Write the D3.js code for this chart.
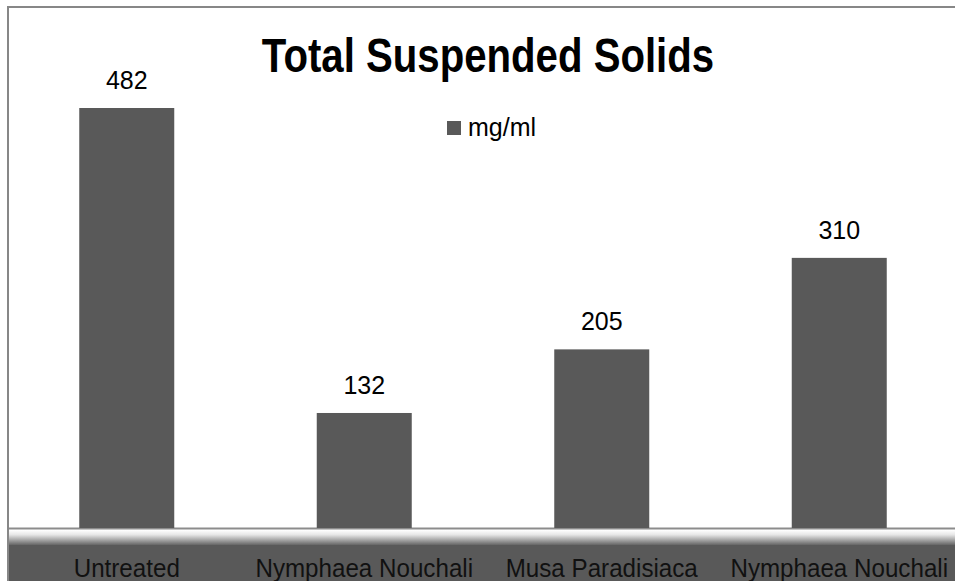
<!DOCTYPE html>
<html>
<head>
  <meta charset="utf-8">
  <title>Total Suspended Solids</title>
  <script src="https://d3js.org/d3.v7.min.js"></script>
  <style>
    body { margin: 0; background: #fff; }
    text { font-family: "Liberation Sans", Arial, sans-serif; }
  </style>
</head>
<body>
<div id="chart"></div>
<script>
// data
var categories = ["Untreated", "Nymphaea Nouchali", "Musa Paradisiaca", "Nymphaea Nouchali"];
var values = [482, 132, 205, 310];
var seriesName = "mg/ml";
var title = "Total Suspended Solids";

var width = 955, height = 581;
var floorY = 528;

var svg = d3.select("#chart")
  .append("svg")
    .attr("width", width)
    .attr("height", height);

var defs = svg.append("defs");
var grad = defs.append("linearGradient")
    .attr("id", "floor")
    .attr("x1", 0).attr("y1", 0).attr("x2", 0).attr("y2", 1);
grad.append("stop").attr("offset", "0%").attr("stop-color", "#ffffff");
grad.append("stop").attr("offset", "30%").attr("stop-color", "#e6e6e6");
grad.append("stop").attr("offset", "100%").attr("stop-color", "#595959");

// outer chart border
svg.append("rect")
    .attr("x", 8).attr("y", 7)
    .attr("width", 960).attr("height", 600)
    .attr("fill", "#fff")
    .attr("stroke", "#878787")
    .attr("stroke-width", 2);

// floor
svg.append("rect")
    .attr("x", 9).attr("y", floorY + 2)
    .attr("width", width).attr("height", 16)
    .attr("fill", "url(#floor)");
svg.append("rect")
    .attr("x", 9).attr("y", floorY + 17)
    .attr("width", width).attr("height", height - floorY)
    .attr("fill", "#595959");
svg.append("line")
    .attr("x1", 9).attr("x2", width)
    .attr("y1", floorY + 0.5).attr("y2", floorY + 0.5)
    .attr("stroke", "#8c8c8c")
    .attr("stroke-width", 2);

var x = d3.scaleBand()
    .domain(d3.range(categories.length))
    .range([8, 958])
    .paddingInner(0.6)
    .paddingOuter(0.3);

var y = d3.scaleLinear()
    .domain([0, 482])
    .range([floorY, 108]);

svg.append("g")
  .selectAll("rect")
  .data(values)
  .enter()
  .append("rect")
    .attr("x", function(d, i) { return x(i); })
    .attr("y", function(d) { return y(d); })
    .attr("width", x.bandwidth())
    .attr("height", function(d) { return y(0) - y(d); })
    .attr("fill", "#595959");

// value labels
svg.append("g")
  .selectAll("text")
  .data(values)
  .enter()
  .append("text")
    .attr("x", function(d, i) { return x(i) + x.bandwidth() / 2; })
    .attr("y", function(d) { return y(d) - 19; })
    .attr("text-anchor", "middle")
    .attr("font-size", "25px")
    .attr("fill", "#000")
    .text(function(d) { return d; });

// category labels on the floor (condensed font, squeezed horizontally)
svg.append("g")
  .selectAll("text")
  .data(categories)
  .enter()
  .append("text")
    .attr("transform", function(d, i) {
      return "translate(" + (x(i) + x.bandwidth() / 2) + ",577) scale(0.93,1)";
    })
    .attr("text-anchor", "middle")
    .attr("font-size", "26px")
    .attr("fill", "#111")
    .text(function(d) { return d; });

// title
svg.append("text")
    .attr("transform", "translate(488,72) scale(0.82,1)")
    .attr("text-anchor", "middle")
    .attr("font-size", "49px")
    .attr("font-weight", "bold")
    .attr("fill", "#000")
    .text(title);

// legend
var legend = svg.append("g").attr("transform", "translate(447,121)");
legend.append("rect")
    .attr("width", 14).attr("height", 14)
    .attr("fill", "#595959");
legend.append("text")
    .attr("x", 21)
    .attr("y", 15)
    .attr("font-size", "25px")
    .attr("fill", "#000")
    .text(seriesName);
</script>
</body>
</html>
